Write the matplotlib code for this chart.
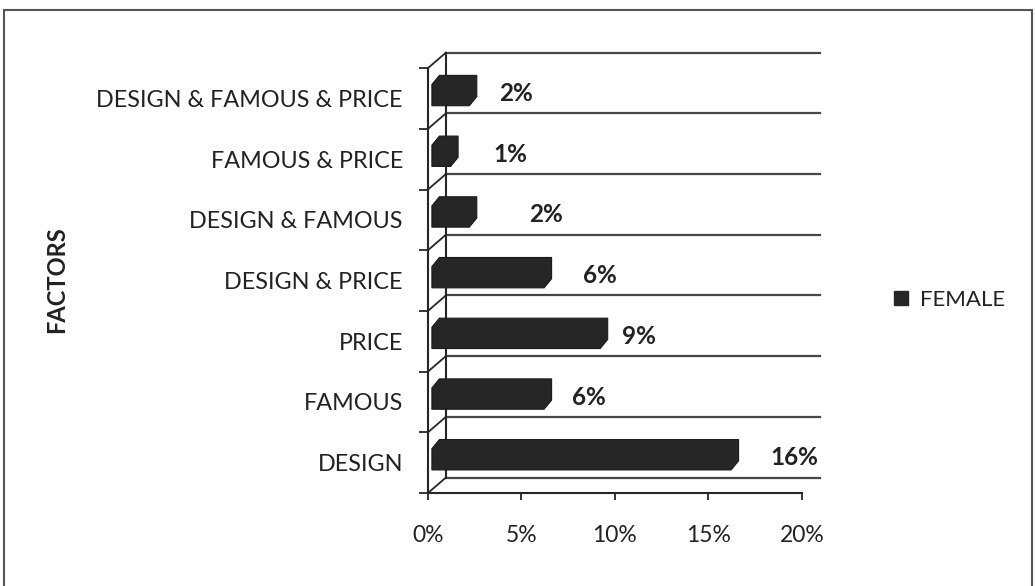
"""Horizontal 3-D style bar chart of the purchase factors named by female respondents."""

import matplotlib.pyplot as plt
from matplotlib.lines import Line2D
from matplotlib.patches import Polygon, Rectangle


factors = [
    "DESIGN",
    "FAMOUS",
    "PRICE",
    "DESIGN & PRICE",
    "DESIGN & FAMOUS",
    "FAMOUS & PRICE",
    "DESIGN & FAMOUS & PRICE",
]
female_pct = [16, 6, 9, 6, 2, 1, 2]
x_ticks = [0, 5, 10, 15, 20]
x_tick_labels = ["0%", "5%", "10%", "15%", "20%"]
series_name = "FEMALE"
axis_title = "FACTORS"

# where each value label sits to the right of its bar (in % units)
label_shift = [3.6, 2.6, 2.3, 3.2, 4.3, 3.4, 2.7]

# fake perspective: back wall offset and bar box geometry, in data units
WALL_DX, WALL_DY = 0.96, 0.255
BAR_X0 = 0.21
BAR_LOW, BAR_HIGH = -0.12, 0.23
BAR_DX, BAR_DY = 0.4, 0.15

INK = "#262626"
GRID = "#474747"
TEXT = "#222222"

plt.rcParams["font.family"] = ["Lato", "DejaVu Sans"]

fig = plt.figure(figsize=(10.35, 5.86), dpi=100)
ax = fig.add_axes([0.4135, 0.1587, 0.3787, 0.7515])
n = len(factors)
ax.set_xlim(0, x_ticks[-1] + WALL_DX)
ax.set_ylim(-0.5, n - 0.5 + WALL_DY)
for spine in ax.spines.values():
    spine.set_visible(False)

bounds = [k - 0.5 for k in range(n + 1)]

# back wall gridlines, wall edge and the slanted joins to the front axis
for b in bounds:
    ax.add_line(Line2D([WALL_DX, x_ticks[-1] + WALL_DX], [b + WALL_DY, b + WALL_DY],
                       color=GRID, lw=1.6, clip_on=False, zorder=1))
    ax.add_line(Line2D([0, WALL_DX], [b, b + WALL_DY], color=INK, lw=1.3,
                       clip_on=False, zorder=1))
ax.add_line(Line2D([WALL_DX, WALL_DX], [bounds[0] + WALL_DY, bounds[-1] + WALL_DY],
                   color=INK, lw=1.5, clip_on=False, zorder=1))

# front axes
ax.add_line(Line2D([0, 0], [bounds[0], bounds[-1]], color=INK, lw=1.5,
                   clip_on=False, zorder=3))
ax.add_line(Line2D([0, x_ticks[-1]], [bounds[0], bounds[0]], color=INK, lw=1.5,
                   clip_on=False, zorder=3))

# bars drawn as box silhouettes
for i, v in enumerate(female_pct):
    x0, x1 = BAR_X0, BAR_X0 + v
    y0, y1 = i + BAR_LOW, i + BAR_HIGH
    pts = [(x0, y0), (x1, y0), (x1 + BAR_DX, y0 + BAR_DY), (x1 + BAR_DX, y1 + BAR_DY),
           (x0 + BAR_DX, y1 + BAR_DY), (x0, y1)]
    ax.add_patch(Polygon(pts, closed=True, facecolor=INK, edgecolor="#1a1a1a",
                         lw=0.8, zorder=2))
    ax.text(v + label_shift[i], i + 0.08, f"{v}%", ha="center", va="center",
            fontsize=17.5, fontweight="bold", color=TEXT)

ax.set_xticks(x_ticks)
ax.set_xticklabels(x_tick_labels)
ax.tick_params(axis="x", direction="out", length=5, width=1.3, color=INK,
               pad=18, labelsize=16.5, labelcolor=TEXT)

ax.set_yticks(range(n))
ax.set_yticklabels(factors)
ax.set_yticks(bounds, minor=True)
ax.tick_params(axis="y", which="major", length=0, pad=18, labelsize=16.8,
               labelcolor=TEXT)
ax.tick_params(axis="y", which="minor", direction="out", length=6.5, width=1.3,
               color=INK)

fig.text(57 / 1035, 1 - 280 / 586, axis_title, rotation=90, ha="center", va="center",
         fontsize=17, fontweight="bold", color=TEXT)

handle = Line2D([], [], marker="s", linestyle="none", markersize=9.5,
                markerfacecolor=INK, markeredgecolor=INK)
fig.legend([handle], [series_name], loc="center left",
           bbox_to_anchor=(890 / 1035, 1 - 300 / 586), frameon=False,
           handlelength=1.0, handletextpad=0.35, borderpad=0, borderaxespad=0,
           fontsize=16, labelcolor=TEXT)

# outer chart frame
fig.patches.append(Rectangle((4 / 1035, -0.05), 1028 / 1035, 1.05 - 10 / 586,
                             transform=fig.transFigure, fill=False,
                             edgecolor="#555555", lw=1.5))

fig.savefig("out.png", dpi=100, facecolor="white")
